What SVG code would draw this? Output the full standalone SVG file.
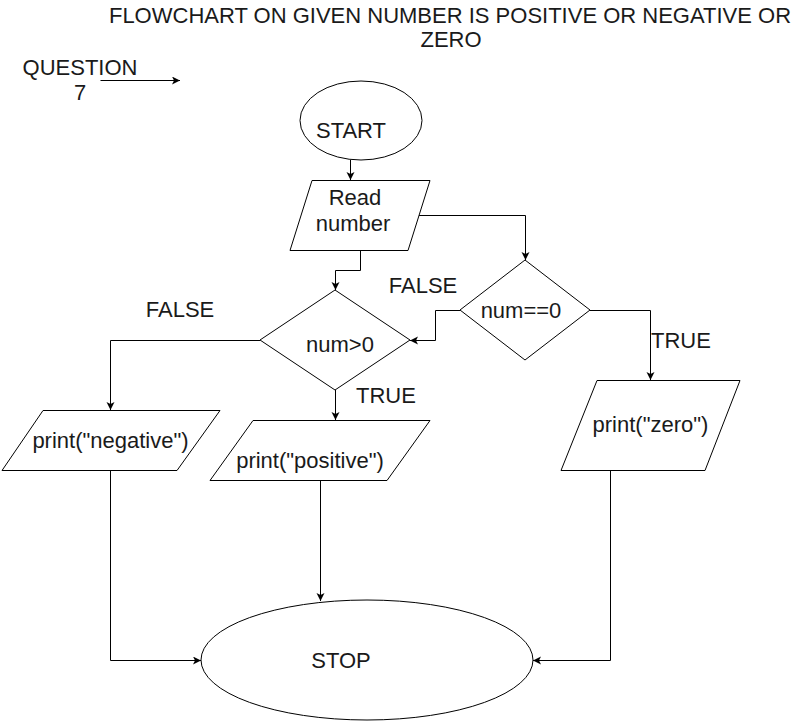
<svg xmlns="http://www.w3.org/2000/svg" width="801" height="721" viewBox="0 0 801 721">
<style>
text{font-family:"Liberation Sans",Arial,sans-serif;font-size:22px;fill:#1a1a1a;text-anchor:middle}
.shape{fill:#fff;stroke:#000;stroke-width:1}
.edge{fill:none;stroke:#000;stroke-width:1}
</style>
<defs>
<marker id="arr" markerUnits="userSpaceOnUse" markerWidth="10" markerHeight="10" refX="8" refY="4" orient="auto">
<path d="M0,0 L8,4 L0,8 L2,4 z" fill="#000"/>
</marker>
</defs>
<rect width="801" height="721" fill="#fff"/>
<g id="title">
<text x="450" y="22.5">FLOWCHART ON GIVEN NUMBER IS POSITIVE OR NEGATIVE OR</text>
<text x="451" y="47">ZERO</text>
</g>
<g id="question">
<text x="80" y="75">QUESTION</text>
<text x="80" y="100">7</text>
</g>
<g id="connectors">
<path class="edge" d="M100.5,80.5 H180" marker-end="url(#arr)"/>
<path class="edge" d="M350.5,160 V180" marker-end="url(#arr)"/>
<path class="edge" d="M419,215.5 H525.5 V260" marker-end="url(#arr)"/>
<path class="edge" d="M360.5,250 V270.5 H335.5 V290" marker-end="url(#arr)"/>
<path class="edge" d="M460,310.5 H435.5 V340.5 H410" marker-end="url(#arr)"/>
<path class="edge" d="M590,310.5 H650.5 V380" marker-end="url(#arr)"/>
<path class="edge" d="M260,340.5 H110.5 V410" marker-end="url(#arr)"/>
<path class="edge" d="M335.5,390 V420" marker-end="url(#arr)"/>
<path class="edge" d="M110.5,470 V660.5 H201" marker-end="url(#arr)"/>
<path class="edge" d="M320.5,480 V601" marker-end="url(#arr)"/>
<path class="edge" d="M610.5,470 V660.5 H533" marker-end="url(#arr)"/>
</g>
<g id="start">
<ellipse class="shape" cx="361" cy="120.5" rx="61" ry="39.5"/>
<text x="351" y="138">START</text>
</g>
<g id="read">
<polygon class="shape" points="312,180.5 430,180.5 408,250.5 290,250.5"/>
<text x="355" y="205">Read</text>
<text x="353" y="231">number</text>
</g>
<g id="numgt0">
<polygon class="shape" points="335,290 410,340 335,390 260,340"/>
<text x="340" y="352">num&gt;0</text>
</g>
<g id="numeq0">
<polygon class="shape" points="525,260 590,310 525,360 460,310"/>
<text x="521" y="318">num==0</text>
</g>
<g id="negative">
<polygon class="shape" points="43,410.5 220,410.5 177,470.5 2,470.5"/>
<text x="110.5" y="448">print("negative")</text>
</g>
<g id="positive">
<polygon class="shape" points="253,420.5 430,420.5 387,480.5 210,480.5"/>
<text x="310" y="468">print("positive")</text>
</g>
<g id="zero">
<polygon class="shape" points="597,380.5 740,380.5 705,470.5 561,470.5"/>
<text x="650.5" y="432">print("zero")</text>
</g>
<g id="stop">
<ellipse class="shape" cx="367" cy="660" rx="166" ry="60"/>
<text x="341" y="668">STOP</text>
</g>
<g id="labels">
<text x="423" y="293">FALSE</text>
<text x="180" y="317">FALSE</text>
<text x="386" y="403">TRUE</text>
<text x="681" y="348">TRUE</text>
</g>
</svg>
